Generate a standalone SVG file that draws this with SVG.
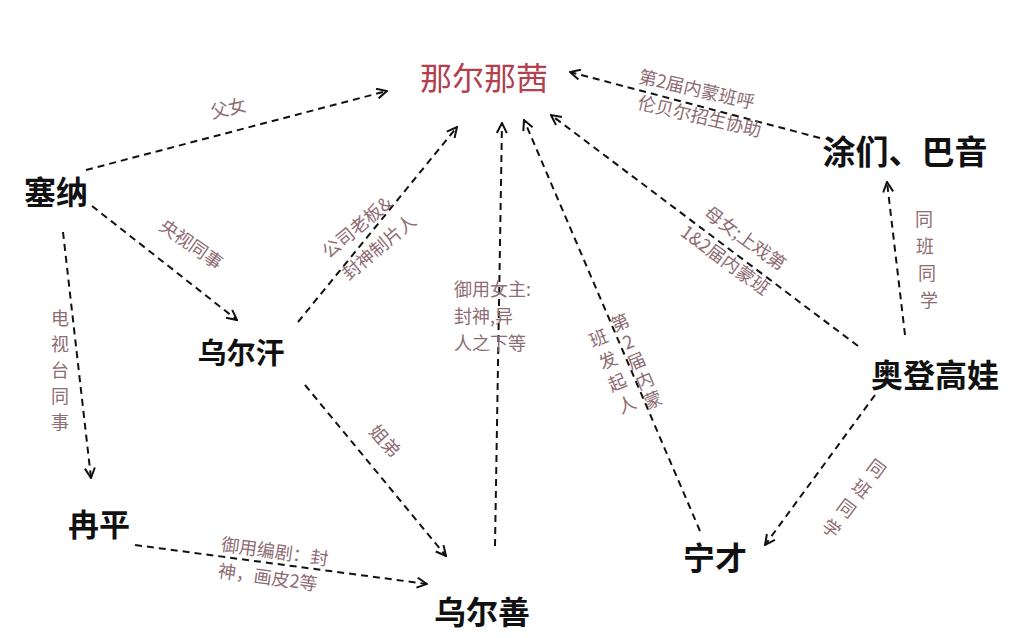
<svg xmlns="http://www.w3.org/2000/svg" width="1024" height="638" viewBox="0 0 1024 638">
<defs>
<marker id="arr" viewBox="0 0 12 12" refX="11" refY="6" markerWidth="12" markerHeight="12" orient="auto" markerUnits="userSpaceOnUse">
<path d="M1,1 L11,6 L1,11" fill="none" stroke="#111" stroke-width="2"/>
</marker>
</defs>
<style>
.e{fill:none;stroke:#111;stroke-width:2;stroke-dasharray:7 5;marker-end:url(#arr)}
.n{font-family:"Noto Sans CJK SC","Noto Sans",sans-serif;font-weight:bold;fill:#111;text-anchor:middle;dominant-baseline:central}
.l{font-family:"Noto Sans CJK SC","Noto Sans",sans-serif;font-size:18px;fill:#8e6c73;text-anchor:middle;dominant-baseline:central}
</style>
<rect width="1024" height="638" fill="#fff"/>
<g id="connectors">
<path class="e" d="M86,170 L387,91"/>
<path class="e" d="M92,206 L237,320"/>
<path class="e" d="M63,232 L91,478"/>
<path class="e" d="M298,322 L457,127"/>
<path class="e" d="M305,385 L446,556"/>
<path class="e" d="M135,545 L427,584"/>
<path class="e" d="M495,546 L502,123"/>
<path class="e" d="M700,531 L524,120"/>
<path class="e" d="M858,346 L551,115"/>
<path class="e" d="M820,138 L570,72"/>
<path class="e" d="M905,335 L887,182"/>
<path class="e" d="M875,395 L765,545"/>
</g>
<g id="labels">
<text class="l" transform="translate(228,107) rotate(-13)">父女</text>
<text class="l" transform="translate(192,243) rotate(35)">央视同事</text>
<text class="l" x="60"><tspan x="60" y="317">电</tspan><tspan x="60" y="343">视</tspan><tspan x="60" y="369">台</tspan><tspan x="60" y="395">同</tspan><tspan x="60" y="421">事</tspan></text>
<text class="l" transform="translate(356,226) rotate(-40)">公司老板&amp;</text>
<text class="l" transform="translate(378,246) rotate(-40)">封神制片人</text>
<text class="l" style="text-anchor:start" x="454" y="288">御用女主:</text>
<text class="l" style="text-anchor:start" x="454" y="315">封神,异</text>
<text class="l" style="text-anchor:start" x="454" y="342">人之下等</text>
<text class="l" transform="translate(386,440) rotate(48)">姐弟</text>
<text class="l" transform="translate(275,550) rotate(8)">御用编剧：封</text>
<text class="l" transform="translate(268,576) rotate(8)">神，画皮2等</text>
<g transform="translate(624,365) rotate(-23)">
<text class="l"><tspan x="13" y="-42">第</tspan><tspan x="13" y="-21">2</tspan><tspan x="13" y="0">届</tspan><tspan x="13" y="21">内</tspan><tspan x="13" y="42">蒙</tspan></text>
<text class="l"><tspan x="-13" y="-36">班</tspan><tspan x="-13" y="-12">发</tspan><tspan x="-13" y="12">起</tspan><tspan x="-13" y="36">人</tspan></text>
</g>
<text class="l" transform="translate(746,237) rotate(36)">母女;上戏第</text>
<text class="l" transform="translate(726,259) rotate(36)">1&amp;2届内蒙班</text>
<text class="l" transform="translate(697,88) rotate(13)">第2届内蒙班呼</text>
<text class="l" transform="translate(700,115) rotate(13)">伦贝尔招生协助</text>
<text class="l"><tspan x="924" y="218">同</tspan><tspan x="925" y="245">班</tspan><tspan x="927" y="272">同</tspan><tspan x="929" y="299">学</tspan></text>
<g transform="translate(855,497) rotate(37)">
<text class="l"><tspan x="0" y="-37">同</tspan><tspan x="0" y="-12">班</tspan><tspan x="0" y="13">同</tspan><tspan x="0" y="38">学</tspan></text>
</g>
</g>
<g id="node-naernaqian"><text class="n" x="484" y="76" style="font-size:32px;font-weight:normal;fill:#b2404e">那尔那茜</text></g>
<g id="node-saina"><text class="n" x="56" y="190" style="font-size:32px">塞纳</text></g>
<g id="node-wuerhan"><text class="n" x="241" y="351" style="font-size:29px">乌尔汗</text></g>
<g id="node-ranping"><text class="n" x="99" y="522" style="font-size:31px">冉平</text></g>
<g id="node-wuershan"><text class="n" x="482" y="610" style="font-size:32px">乌尔善</text></g>
<g id="node-ningcai"><text class="n" x="715" y="556" style="font-size:32px">宁才</text></g>
<g id="node-aodenggaowa"><text class="n" x="935" y="373" style="font-size:32px">奥登高娃</text></g>
<g id="node-tumenbayin"><text class="n" x="905" y="150" style="font-size:33px">涂们、巴音</text></g>
</svg>
